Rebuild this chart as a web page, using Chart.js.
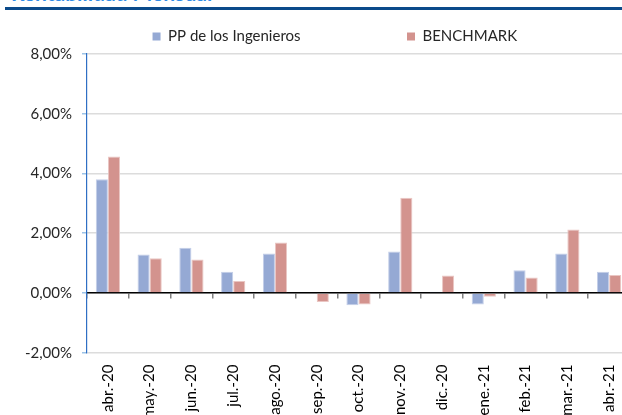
<!DOCTYPE html>
<html><head><meta charset="utf-8">
<script src="https://cdn.jsdelivr.net/npm/chart.js@4.4.1/dist/chart.umd.min.js"></script>
<style>
html,body{margin:0;padding:0;width:622px;height:415px;overflow:hidden;background:#fff;}
#wrap{position:relative;width:640px;height:430px;}
#title{position:absolute;left:11px;top:-20px;font:bold 21px Lato;color:#2E8BE6;white-space:nowrap;}
#rule{position:absolute;left:5px;top:7px;width:640px;height:3px;background:#0B4A8A;}
canvas{position:absolute;left:0;top:0;}
</style></head><body>
<div id="wrap">
<div id="title">Rentabilidad Mensual</div>
<div id="rule"></div>
<canvas id="c" width="640" height="430"></canvas>
</div>
<script>
const categories = ['abr.-20','may.-20','jun.-20','jul.-20','ago.-20','sep.-20','oct.-20','nov.-20','dic.-20','ene.-21','feb.-21','mar.-21','abr.-21'];
const seriesNames = ['PP de los Ingenieros','BENCHMARK'];
const ppValues = [3.81, 1.29, 1.51, 0.71, 1.32, 0.00, -0.41, 1.39, 0.04, -0.39, 0.76, 1.32, 0.71];
const benchmarkValues = [4.57, 1.16, 1.12, 0.40, 1.69, -0.30, -0.39, 3.19, 0.58, -0.13, 0.52, 2.12, 0.60];
const yTickLabels = ['-2,00%','0,00%','2,00%','4,00%','6,00%','8,00%'];

Chart.defaults.font.family = 'Lato';
Chart.defaults.font.size = 15;
Chart.defaults.color = '#262626';

const spacer = n => ({text: ' '.repeat(n), fillStyle: 'rgba(0,0,0,0)', strokeStyle: 'rgba(0,0,0,0)', lineWidth: 0, hidden: false, datasetIndex: -1});

new Chart(document.getElementById('c'), {
  type: 'bar',
  data: {
    labels: categories,
    datasets: [
      {label: seriesNames[0], data: ppValues, backgroundColor: '#95A9D4', borderColor: '#C3CEE8', borderWidth: 1, categoryPercentage: 0.58, barPercentage: 1},
      {label: seriesNames[1], data: benchmarkValues, backgroundColor: '#D3938E', borderColor: '#EAC6C3', borderWidth: 1, categoryPercentage: 0.58, barPercentage: 1}
    ]
  },
  options: {
    responsive: false, animation: false, devicePixelRatio: 1,
    layout: {padding: {top: 20, right: 10, bottom: 0, left: 0}},
    plugins: {
      tooltip: {enabled: false},
      legend: {
        position: 'top', align: 'start',
        labels: {
          boxWidth: 8, boxHeight: 8, padding: 9, color: '#262626',
          generateLabels(chart) {
            const items = Chart.defaults.plugins.legend.labels.generateLabels(chart);
            items.forEach(it => { it.lineWidth = 0; it.strokeStyle = it.fillStyle; });
            return [spacer(31), items[0], spacer(19), items[1]];
          }
        }
      }
    },
    scales: {
      x: {
        position: 'bottom',
        grid: {display: false, drawTicks: false},
        border: {display: false},
        ticks: {minRotation: 90, maxRotation: 90, padding: 12, autoSkip: false, color: '#000'}
      },
      x2: {
        type: 'category', labels: categories, position: {y: 0}, offset: true,
        grid: {offset: true, drawOnChartArea: false, drawTicks: true, tickLength: 5, tickColor: '#808080', lineWidth: 1.5},
        border: {display: true, color: '#000', width: 1.5},
        ticks: {display: false}
      },
      y: {
        min: -2, max: 8,
        ticks: {stepSize: 2, padding: 10, color: '#262626', callback: (v, i) => yTickLabels[i]},
        grid: {color: '#DCDCDC', lineWidth: 1.5, tickColor: '#9DC3E6', tickLength: 5},
        border: {color: '#2F6FC4', width: 1.2},
        afterFit(s) { s.width = 87; }
      }
    }
  }
});
</script>
</body></html>
